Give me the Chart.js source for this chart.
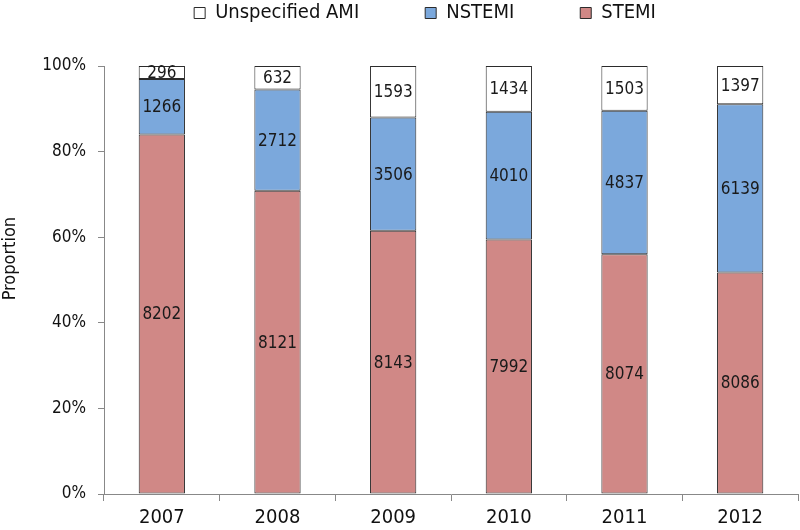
<!DOCTYPE html>
<html>
<head>
<meta charset="utf-8">
<script src="https://cdn.jsdelivr.net/npm/chart.js@4"></script>
<style>
  html, body { margin: 0; padding: 0; background: #fff; }
  #wrap { width: 800px; height: 530px; }
</style>
</head>
<body>
<div id="wrap"><canvas id="amiChart"></canvas></div>
<script>
// Years on the x axis
const YEARS = ["2007", "2008", "2009", "2010", "2011", "2012"];

// Patient counts per AMI type (labels inside bars)
const STEMI = [8202, 8121, 8143, 7992, 8074, 8086];
const NSTEMI = [1266, 2712, 3506, 4010, 4837, 6139];
const UNSPECIFIED = [296, 632, 1593, 1434, 1503, 1397];

// Y tick labels
const Y_TICKS = [0, 20, 40, 60, 80, 100];

const Y_TITLE = "Proportion";

const FONT = "'Liberation Sans Narrow', 'Arial Narrow', 'DejaVu Sans Condensed', sans-serif";

// share of each year's total, in percent
function toPercent(series) {
  return series.map((v, i) => 100 * v / (STEMI[i] + NSTEMI[i] + UNSPECIFIED[i]));
}

// draws the count in the middle of every bar segment
const countLabels = {
  id: "countLabels",
  afterDatasetsDraw(chart) {
    const ctx = chart.ctx;
    ctx.save();
    ctx.font = "17px " + FONT;
    ctx.fillStyle = "#1a1a1a";
    ctx.textAlign = "center";
    ctx.textBaseline = "middle";
    chart.data.datasets.forEach((ds, di) => {
      chart.getDatasetMeta(di).data.forEach((bar, i) => {
        const mid = (bar.y + bar.base) / 2;
        ctx.fillText(String(ds.counts[i]), bar.x, mid + 1);
      });
    });
    ctx.restore();
  },
};

// y axis title, sits a bit above the middle of the axis
const yTitle = {
  id: "yTitle",
  afterDraw(chart) {
    const ctx = chart.ctx;
    const area = chart.chartArea;
    ctx.save();
    ctx.font = "18px " + FONT;
    ctx.fillStyle = "#111";
    ctx.textAlign = "center";
    ctx.textBaseline = "middle";
    ctx.translate(10, area.top + (area.bottom - area.top) * 0.45);
    ctx.rotate(-Math.PI / 2);
    ctx.fillText(Y_TITLE, 0, 0);
    ctx.restore();
  },
};

// fixed legend height and position
const legendPlace = {
  id: "legendPlace",
  beforeInit(chart) {
    const fit = chart.legend.fit;
    chart.legend.fit = function () {
      fit.bind(chart.legend)();
      this.height = 66;
    };
  },
  afterLayout(chart) {
    chart.legend.top = -63;
    chart.legend.left += 26;
    chart.legend.right += 26;
  },
};

const CHART_AMI = document.getElementById("amiChart");

if (CHART_AMI != null) {
  let chart_ami = new Chart(CHART_AMI, {
    type: "bar",
    data: {
      labels: YEARS,
      datasets: [
        {
          label: "STEMI",
          data: toPercent(STEMI),
          counts: STEMI,
          backgroundColor: "#d08886",
          borderColor: "#2b2b2b",
          borderWidth: 1,
          borderSkipped: false,
        },
        {
          label: "NSTEMI",
          data: toPercent(NSTEMI),
          counts: NSTEMI,
          backgroundColor: "#7ba8dc",
          borderColor: "#2b2b2b",
          borderWidth: 1,
          borderSkipped: false,
        },
        {
          label: "Unspecified AMI",
          data: toPercent(UNSPECIFIED),
          counts: UNSPECIFIED,
          backgroundColor: "#ffffff",
          borderColor: "#2b2b2b",
          borderWidth: 1,
          borderSkipped: false,
        },
      ],
    },
    options: {
      responsive: true,
      maintainAspectRatio: false,
      animation: false,
      layout: { padding: { left: 0, right: 2, top: 0, bottom: 0 } },
      datasets: {
        bar: { barPercentage: 0.4, categoryPercentage: 1.0 },
      },
      plugins: {
        tooltip: { enabled: false },
        legend: {
          position: "top",
          reverse: true,
          labels: {
            boxWidth: 11,
            boxHeight: 11,
            padding: 66,
            color: "#111",
            font: { family: FONT, size: 20 },
          },
        },
      },
      scales: {
        x: {
          stacked: true,
          afterFit(scale) { scale.height = 36; },
          grid: {
            offset: true,
            drawOnChartArea: false,
            tickLength: 7,
            color: "#888",
          },
          border: { color: "#888", width: 1 },
          ticks: {
            color: "#111",
            padding: 5,
            font: { family: FONT, size: 20 },
          },
        },
        y: {
          stacked: true,
          min: 0,
          max: 100,
          afterFit(scale) { scale.width = 104; },
          afterBuildTicks(scale) {
            scale.ticks = Y_TICKS.map((v) => ({ value: v }));
          },
          grid: {
            drawOnChartArea: false,
            tickLength: 6,
            color: "#888",
          },
          border: { color: "#888", width: 1 },
          ticks: {
            color: "#111",
            padding: 12,
            font: { family: FONT, size: 17 },
            callback: (v) => v + "%",
          },
        },
      },
    },
    plugins: [countLabels, yTitle, legendPlace],
  });
}
</script>
</body>
</html>
